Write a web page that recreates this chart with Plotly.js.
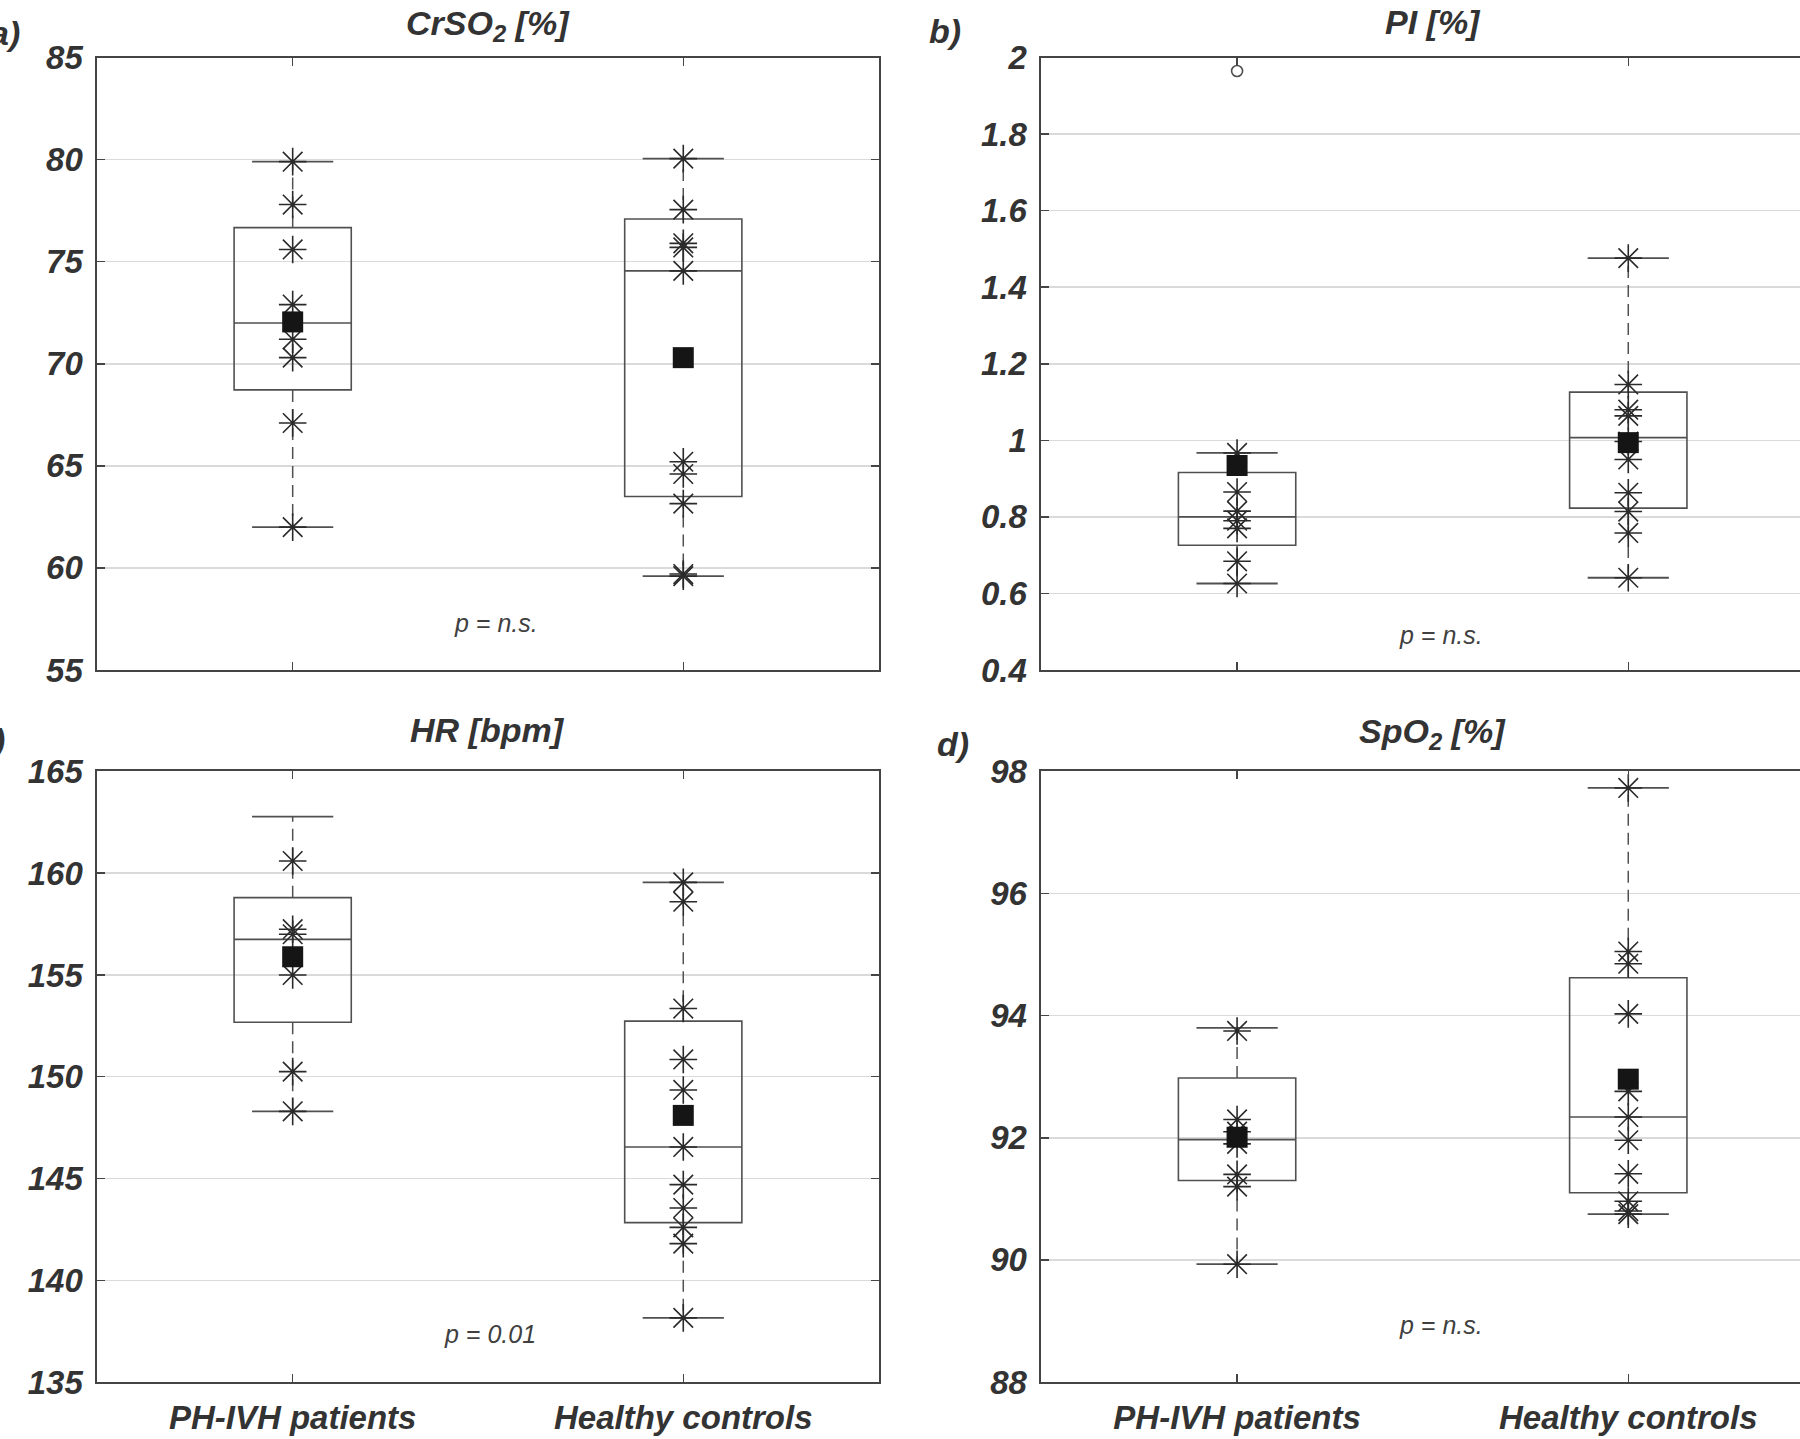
<!DOCTYPE html>
<html>
<head>
<meta charset="utf-8">
<script src="https://cdn.plot.ly/plotly-3.0.1.min.js"></script>
<style>
  html, body { margin: 0; padding: 0; background: #ffffff; overflow: hidden; }
  #chart { width: 1800px; height: 1439px; }
</style>
</head>
<body>
<div id="chart"></div>
<script>
// ---------------- DATA ----------------
const categories = ["PH-IVH patients", "Healthy controls"];
const catPos = [1, 2];

// a) CrSO2 [%]
const crso2Patients = [79.9, 77.8, 75.6, 72.9, 71.2, 70.3, 67.1, 62.0];
const crso2Controls = [80.05, 77.55, 75.9, 75.7, 74.55, 65.2, 64.6, 63.15, 59.7, 59.6];
const crso2Outliers = [[], []];
const crso2Q1 = [68.72, 63.5];
const crso2Median = [72.0, 74.55];
const crso2Q3 = [76.67, 77.09];
const crso2Low = [62.0, 59.6];
const crso2High = [79.9, 80.05];
const crso2Mean = [72.05, 70.3];

// b) PI [%]
const piPatients = [0.967, 0.865, 0.815, 0.79, 0.77, 0.684, 0.626];
const piControls = [1.476, 1.146, 1.08, 1.064, 0.997, 0.95, 0.863, 0.814, 0.758, 0.641];
const piOutliers = [[1.965], []];
const piQ1 = [0.726, 0.823];
const piMedian = [0.80, 1.007];
const piQ3 = [0.916, 1.126];
const piLow = [0.626, 0.641];
const piHigh = [0.967, 1.476];
const piMean = [0.934, 0.994];

// c) HR [bpm]
const hrPatients = [160.6, 157.25, 157.0, 155.0, 150.25, 148.3];
const hrControls = [159.55, 158.6, 153.35, 150.85, 149.35, 146.55, 144.7, 143.55, 142.6, 141.8, 138.15];
const hrOutliers = [[], []];
const hrQ1 = [152.68, 142.83];
const hrMedian = [156.75, 146.55];
const hrQ3 = [158.8, 152.73];
const hrLow = [148.3, 138.15];
const hrHigh = [162.78, 159.55];
const hrMean = [155.9, 148.1];

// d) SpO2 [%]
const spo2Patients = [93.75, 92.3, 92.1, 91.9, 91.4, 91.2, 89.93];
const spo2Controls = [97.73, 95.05, 94.85, 94.03, 92.76, 92.34, 91.96, 91.41, 90.96, 90.8, 90.75];
const spo2Outliers = [[], []];
const spo2Q1 = [91.3, 91.1];
const spo2Median = [91.97, 92.34];
const spo2Q3 = [92.98, 94.62];
const spo2Low = [89.93, 90.75];
const spo2High = [93.8, 97.73];
const spo2Mean = [92.01, 92.96];

// p-value labels
const pLabels = ["p = n.s.", "p = n.s.", "p = 0.01", "p = n.s."];

// ---------------- STYLE ----------------
const FONT = '"Liberation Sans", Arial, Helvetica, sans-serif';
const TEXT = '#333333';
const AXIS = '#444444';
const GRID = '#dadada';
const BOXC = '#505050';
const STAR = '#2a2a2a';

function panel(n, pts, outl, q1, med, q3, lo, hi, mean) {
  const xa = 'x' + (n === 1 ? '' : n), ya = 'y' + (n === 1 ? '' : n);
  const tr = [];
  tr.push({
    type: 'box', x: catPos, q1: q1, median: med, q3: q3,
    lowerfence: q1, upperfence: q3, width: 0.3, whiskerwidth: 0,
    boxpoints: false, fillcolor: 'rgba(0,0,0,0)',
    line: { color: BOXC, width: 1.6 }, xaxis: xa, yaxis: ya, hoverinfo: 'skip'
  });
  const wx = [], wy = [];
  for (let i = 0; i < 2; i++) {
    wx.push(catPos[i], catPos[i], null, catPos[i], catPos[i], null);
    wy.push(q3[i], hi[i], null, q1[i], lo[i], null);
  }
  tr.push({
    type: 'scatter', mode: 'lines', x: wx, y: wy, xaxis: xa, yaxis: ya,
    line: { color: BOXC, width: 1.5, dash: '12px,7px' }, hoverinfo: 'skip'
  });
  tr.push({
    type: 'scatter', mode: 'markers', xaxis: xa, yaxis: ya, hoverinfo: 'skip',
    x: [catPos[0], catPos[0], catPos[1], catPos[1]],
    y: [hi[0], lo[0], hi[1], lo[1]],
    marker: { symbol: 'line-ew-open', size: 58, color: BOXC, line: { color: BOXC, width: 1.8 } }
  });
  const sx = [], sy = [];
  for (let i = 0; i < 2; i++) pts[i].forEach(v => { sx.push(catPos[i]); sy.push(v); });
  tr.push({
    type: 'scatter', mode: 'markers', x: sx, y: sy, xaxis: xa, yaxis: ya, hoverinfo: 'skip',
    marker: { symbol: 'asterisk-open', size: 23, color: STAR, line: { color: STAR, width: 1.6 } }
  });
  const ox = [], oy = [];
  for (let i = 0; i < 2; i++) outl[i].forEach(v => { ox.push(catPos[i]); oy.push(v); });
  if (ox.length) tr.push({
    type: 'scatter', mode: 'markers', x: ox, y: oy, xaxis: xa, yaxis: ya, hoverinfo: 'skip',
    marker: { symbol: 'circle-open', size: 11, color: BOXC, line: { color: BOXC, width: 1.6 } }
  });
  tr.push({
    type: 'scatter', mode: 'markers', x: catPos, y: mean, xaxis: xa, yaxis: ya, hoverinfo: 'skip',
    marker: { symbol: 'square', size: 21, color: '#151515' }
  });
  return tr;
}

const data = [].concat(
  panel(1, [crso2Patients, crso2Controls], crso2Outliers, crso2Q1, crso2Median, crso2Q3, crso2Low, crso2High, crso2Mean),
  panel(2, [piPatients, piControls], piOutliers, piQ1, piMedian, piQ3, piLow, piHigh, piMean),
  panel(3, [hrPatients, hrControls], hrOutliers, hrQ1, hrMedian, hrQ3, hrLow, hrHigh, hrMean),
  panel(4, [spo2Patients, spo2Controls], spo2Outliers, spo2Q1, spo2Median, spo2Q3, spo2Low, spo2High, spo2Mean)
);

const tickFont = { family: FONT, size: 33, color: TEXT, weight: 'bold', style: 'italic' };

function xAxis(domain, range, anchor, labels) {
  return {
    domain: domain, range: range, anchor: anchor, tickvals: catPos, ticktext: categories,
    showticklabels: labels, tickfont: tickFont, ticks: 'inside', ticklen: 8, tickwidth: 1.5,
    tickcolor: AXIS, showline: true, linecolor: AXIS, linewidth: 2, mirror: 'ticks',
    showgrid: false, zeroline: false, fixedrange: true, ticklabelstandoff: 5
  };
}
function yAxis(domain, range, dtick, anchor, mirror) {
  return {
    domain: domain, range: range, anchor: anchor, tick0: range[0], dtick: dtick,
    tickfont: tickFont, ticks: 'inside', ticklen: 8, tickwidth: 1.5, tickcolor: AXIS,
    showline: true, linecolor: AXIS, linewidth: 2, mirror: mirror,
    showgrid: true, gridcolor: GRID, gridwidth: 1.5, zeroline: false, fixedrange: true,
    ticklabelstandoff: 6
  };
}

const xL = [0.0541, 0.4881], xR = [0.5786, 1.0];
const yT = [0.5344, 0.9600], yB = [0.0396, 0.4639];

const titleFont = { family: FONT, size: 34, color: TEXT, weight: 'bold', style: 'italic' };
const pFont = { family: FONT, size: 25, color: '#404040', style: 'italic' };

function ann(text, x, y, xref, yref, font, xanchor) {
  return { text: text, x: x, y: y, xref: xref, yref: yref, showarrow: false,
           font: font, xanchor: xanchor || 'center', yanchor: 'middle' };
}

const layout = {
  width: 1800, height: 1439, margin: { l: 0, r: 0, t: 0, b: 0 },
  paper_bgcolor: '#ffffff', plot_bgcolor: '#ffffff', showlegend: false,
  xaxis: xAxis(xL, [0.5, 2.5], 'y', false),
  yaxis: yAxis(yT, [55, 85], 5, 'x', 'ticks'),
  xaxis2: xAxis(xR, [0.5, 2.439], 'y2', false),
  yaxis2: yAxis(yT, [0.4, 2], 0.2, 'x2', false),
  xaxis3: xAxis(xL, [0.5, 2.5], 'y3', true),
  yaxis3: yAxis(yB, [135, 165], 5, 'x3', 'ticks'),
  xaxis4: xAxis(xR, [0.5, 2.439], 'y4', true),
  yaxis4: yAxis(yB, [88, 98], 2, 'x4', false),
  annotations: [
    ann('CrSO<sub>2</sub> [%]', 1.5, 1 - 26 / 1439, 'x', 'paper', titleFont),
    ann('PI [%]', 1.5, 1 - 22 / 1439, 'x2', 'paper', titleFont),
    ann('HR [bpm]', 1.5, 0.4927, 'x3', 'paper', titleFont),
    ann('SpO<sub>2</sub> [%]', 1.5, 0.4905, 'x4', 'paper', titleFont),
    ann('a)', 22 / 1800, 1 - 33 / 1439, 'paper', 'paper', titleFont, 'right'),
    ann('b)', 963 / 1800, 1 - 31 / 1439, 'paper', 'paper', titleFont, 'right'),
    ann('c)', 7 / 1800, 1 - 740 / 1439, 'paper', 'paper', titleFont, 'right'),
    ann('d)', 971 / 1800, 1 - 744 / 1439, 'paper', 'paper', titleFont, 'right'),
    ann(pLabels[0], 1.52, 57.3, 'x', 'y', pFont),
    ann(pLabels[1], 1.52, 0.491, 'x2', 'y2', pFont),
    ann(pLabels[2], 1.505, 137.36, 'x3', 'y3', pFont),
    ann(pLabels[3], 1.52, 88.93, 'x4', 'y4', pFont)
  ]
};

Plotly.newPlot('chart', data, layout, { displayModeBar: false, staticPlot: true });
</script>
</body>
</html>
